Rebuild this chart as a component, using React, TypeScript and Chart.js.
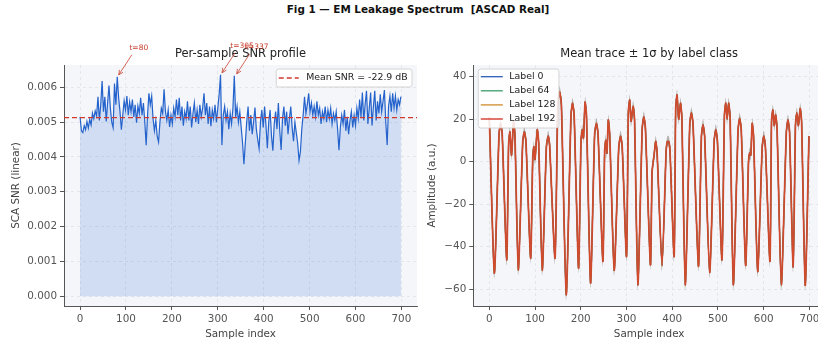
import React, { useEffect, useRef } from "react";
import { Chart, registerables } from "chart.js";

Chart.register(...registerables);

const FONT = "'DejaVu Sans', sans-serif";

// ---------------- Figure text ----------------
const SUPTITLE = "Fig 1 \u2014 EM Leakage Spectrum  [ASCAD Real]";
const LEFT_TITLE = "Per-sample SNR profile";
const RIGHT_TITLE = "Mean trace \u00b1 1\u03c3 by label class";
const X_LABEL = "Sample index";
const LEFT_Y_LABEL = "SCA SNR (linear)";
const RIGHT_Y_LABEL = "Amplitude (a.u.)";

// ---------------- Left panel data ----------------
const SNR_STEP = 3; // SNR read every 3rd sample (0, 3, 6, ... 699)
const SNR_VALUES = [
  0.00515, 0.00475, 0.0047, 0.0049, 0.00478, 0.00502, 0.00483, 0.00508, 0.00492, 0.00526,
  0.0051, 0.00532, 0.00518, 0.00573, 0.00505, 0.0055, 0.00618, 0.0053, 0.00573, 0.00502,
  0.00555, 0.00605, 0.0054, 0.005, 0.00484, 0.00611, 0.0055, 0.0063, 0.0057, 0.0053,
  0.00478, 0.0052, 0.00561, 0.00535, 0.00575, 0.0052, 0.00558, 0.0053, 0.00565, 0.00515,
  0.0055, 0.00498, 0.00546, 0.00525, 0.0057, 0.0052, 0.00555, 0.005, 0.00434, 0.0052,
  0.00583, 0.0055, 0.00575, 0.0051, 0.00475, 0.00505, 0.0046, 0.00443, 0.005, 0.0054,
  0.00525, 0.00594, 0.0053, 0.00505, 0.00535, 0.00486, 0.0052, 0.00495, 0.0054, 0.00515,
  0.00565, 0.0052, 0.0057, 0.00505, 0.00545, 0.0049, 0.0053, 0.0051, 0.0056, 0.00505,
  0.00545, 0.00485, 0.00525, 0.00555, 0.005, 0.00535, 0.00495, 0.0055, 0.00515, 0.0054,
  0.00583, 0.0052, 0.00555, 0.00495, 0.00545, 0.00488, 0.00535, 0.0051, 0.0055, 0.005,
  0.0054, 0.0058, 0.00636, 0.00434, 0.0052, 0.00545, 0.00505, 0.0053, 0.0048, 0.00525,
  0.00495, 0.0054, 0.00633, 0.00515, 0.00545, 0.005, 0.0053, 0.00485, 0.0044, 0.00379,
  0.0044, 0.005, 0.00545, 0.00475, 0.0052, 0.00465, 0.005, 0.00542, 0.0048, 0.0045,
  0.00424, 0.005, 0.00535, 0.00485, 0.00545, 0.0049, 0.00425, 0.005, 0.00535, 0.0046,
  0.00418, 0.00495, 0.0053, 0.0048, 0.00555, 0.00475, 0.0042, 0.0051, 0.00545, 0.0049,
  0.0053, 0.00465, 0.0051, 0.00545, 0.00485, 0.00445, 0.005, 0.0047, 0.0044, 0.0039,
  0.00415, 0.0048, 0.0052, 0.00573, 0.00525, 0.0055, 0.00583, 0.0053, 0.00555, 0.0052,
  0.00545, 0.00515, 0.0056, 0.0052, 0.0054, 0.00495, 0.0053, 0.0051, 0.00545, 0.005,
  0.00535, 0.0051, 0.0054, 0.00495, 0.00525, 0.00505, 0.0053, 0.0048, 0.00419, 0.00485,
  0.0052, 0.00495, 0.00535, 0.00475, 0.00515, 0.00465, 0.00505, 0.0053, 0.00485, 0.0052,
  0.0049, 0.0054, 0.0051, 0.00565, 0.00515, 0.00585, 0.00505, 0.0055, 0.0059, 0.00495,
  0.0054, 0.00585, 0.0049, 0.00545, 0.0059, 0.00505, 0.0056, 0.00525, 0.0058, 0.0053,
  0.0056, 0.00592, 0.005, 0.00434, 0.00545, 0.00575, 0.0053, 0.00583, 0.0054, 0.00575,
  0.00535, 0.00565, 0.0055, 0.00573,
];
const SNR_MEAN = 0.00513;
const SNR_LEGEND = "Mean SNR = -22.9 dB";
const PEAK_SAMPLES = [80, 305, 337];
const PEAK_VALUES = [0.0063, 0.00636, 0.00633];
const SNR_Y_TICKS = [0, 0.001, 0.002, 0.003, 0.004, 0.005, 0.006];
const SAMPLE_TICKS = [0, 100, 200, 300, 400, 500, 600, 700];

// ---------------- Right panel data ----------------
const TRACE_SAMPLES = [
  0, 11.0, 21.3, 24.7, 28.2, 38.0, 42.2, 45.1, 48.6, 53.1, 56.1, 63.4, 73.0, 76.5, 80.0, 90.3,
  95.0, 97.4, 99.9, 104.9, 107.9, 115.8, 124.8, 128.8, 131.8, 143.7, 149.7, 153.7, 157.6, 168.2,
  178.6, 182.0, 185.5, 195.1, 200.5, 203.4, 205.9, 209.4, 212.4, 221.4, 230.3, 234.3, 237.8, 248.3,
  252.2, 254.7, 257.2, 260.2, 263.2, 273.1, 283.1, 287.1, 290.6, 300.0, 304.0, 307.0, 310.0, 314.5,
  317.5, 324.9, 334.4, 337.9, 341.3, 352.3, 355.8, 357.8, 360.3, 363.7, 366.7, 377.7, 386.6, 389.1,
  392.6, 395.1, 404.1, 407.5, 410.5, 414.0, 418.0, 421.0, 428.5, 438.4, 441.9, 445.4, 457.3, 463.8,
  467.3, 470.8, 481.8, 491.7, 495.2, 498.7, 508.7, 514.1, 517.1, 520.0, 523.3, 526.5, 533.6, 543.9,
  547.4, 550.9, 560.5, 566.8, 569.3, 571.8, 574.8, 577.8, 586.8, 596.7, 600.2, 603.7, 613.6, 617.1,
  620.1, 623.1, 626.1, 629.1, 638.5, 649.5, 653.0, 656.5, 664.4, 669.4, 672.4, 675.9, 679.8, 682.8,
  690.8, 699,
];
const TRACE_MEAN = [
  21, -52.5, 13, 18, 13, -46.3, 8, 14, 3, 19, 12, -51, 9, 14, 10, -45.5,
  2, 7, 1, 15, 9, -51.2, 7, 12, 8, -45.5, 27, 33, 27, -62.7,
  22, 27.5, 22, -50.2, 10, 15, 11, 28, 22, -57.2, 13, 18, 13, -47,
  5, 10, 4, 19.6, 13, -51.2, 7, 12, 7, -44.7, 23, 29, 19, 26,
  20, -58, 16, 21, 16, -48.6, -5, -1, 3, 9.5, 5, -49, 5, 9.4,
  9.4, 5, -44.7, 25, 31.4, 20, 27.5, 21, -58, 18, 23, 18, -49.3, 12,
  17.3, 12, -52.2, 10, 15, 10, -46.3, 22, 27.5, 20, 27.5, 21, -58, 15,
  20.4, 15, -48.9, 0, 4, 3, 18, 12, -51.8, 7, 12, 7, -47, 19,
  24.3, 17, 22, 16, -58, 14, 19.6, 14, -49.6, 17, 23, 17, 25, 19,
  -58.3, 12,
];
const LABEL_NAMES = ["Label 0", "Label 64", "Label 128", "Label 192"];
const LABEL_SIGMA = [2.6, 2.4, 2.8, 2.5];
const AMP_TICKS = [-60, -40, -20, 0, 20, 40];

// ---------------- Styles ----------------
const LABEL_COLORS = ["#2c5fb8", "#3a9e6a", "#d08a2a", "rgba(212,58,44,0.78)"];
const BAND_COLORS = [
  "rgba(44,95,184,0.16)",
  "rgba(58,158,106,0.16)",
  "rgba(208,138,42,0.16)",
  "rgba(214,76,58,0.16)",
];
const SNR_COLOR = "#2563cc";
const SNR_FILL = "rgba(37,99,204,0.17)";
const MEAN_COLOR = "#d0392b";
const ANNOT_COLOR = "#c8412f";
const PLOT_BG = "#f5f6fa";
const GRID_COLOR = "#dfe2e8";
const AXIS_COLOR = "#555555";
const TICK_TEXT = "#555555";
const TITLE_TEXT = "#222222";

const bgPlugin = {
  id: "plotBg",
  beforeDraw(chart: any) {
    const { ctx, chartArea: a } = chart;
    ctx.save();
    ctx.fillStyle = PLOT_BG;
    ctx.fillRect(a.left, a.top, a.right - a.left, a.bottom - a.top);
    ctx.restore();
  },
};

function roundRect(ctx: any, x: number, y: number, w: number, h: number, r: number) {
  ctx.beginPath();
  ctx.moveTo(x + r, y);
  ctx.lineTo(x + w - r, y);
  ctx.quadraticCurveTo(x + w, y, x + w, y + r);
  ctx.lineTo(x + w, y + h - r);
  ctx.quadraticCurveTo(x + w, y + h, x + w - r, y + h);
  ctx.lineTo(x + r, y + h);
  ctx.quadraticCurveTo(x, y + h, x, y + h - r);
  ctx.lineTo(x, y + r);
  ctx.quadraticCurveTo(x, y, x + r, y);
  ctx.closePath();
}

function drawPanelTitle(chart: any, text: string) {
  const { ctx, chartArea: a } = chart;
  ctx.save();
  ctx.font = `11.5px ${FONT}`;
  ctx.fillStyle = TITLE_TEXT;
  ctx.textAlign = "center";
  ctx.textBaseline = "middle";
  ctx.fillText(text, (a.left + a.right) / 2, a.top - 10.5);
  ctx.restore();
}

const leftDecor = {
  id: "leftDecor",
  afterDatasetsDraw(chart: any) {
    const { ctx, chartArea: a, scales } = chart;
    const yy = scales.y.getPixelForValue(SNR_MEAN);
    ctx.save();
    ctx.strokeStyle = MEAN_COLOR;
    ctx.lineWidth = 1.3;
    ctx.setLineDash([5, 3]);
    ctx.beginPath();
    ctx.moveTo(a.left, yy);
    ctx.lineTo(a.right, yy);
    ctx.stroke();
    ctx.restore();
  },
  afterDraw(chart: any) {
    const { ctx, chartArea: a, scales } = chart;
    drawPanelTitle(chart, LEFT_TITLE);

    // peak annotations
    PEAK_SAMPLES.forEach((s, i) => {
      const px = scales.x.getPixelForValue(s);
      const py = scales.y.getPixelForValue(PEAK_VALUES[i]);
      const tx = px + 22;
      const ty = py - 29;
      ctx.save();
      ctx.font = `7.5px ${FONT}`;
      ctx.fillStyle = ANNOT_COLOR;
      ctx.textAlign = "center";
      ctx.textBaseline = "middle";
      ctx.fillText(`t=${s}`, tx, ty);
      const sx = tx - 7, sy = ty + 7;
      const ex = px + 2, ey = py - 2;
      ctx.strokeStyle = ANNOT_COLOR;
      ctx.lineWidth = 0.8;
      ctx.beginPath();
      ctx.moveTo(sx, sy);
      ctx.lineTo(ex, ey);
      const ang = Math.atan2(ey - sy, ex - sx);
      const hl = 5;
      ctx.moveTo(ex, ey);
      ctx.lineTo(ex - hl * Math.cos(ang - 0.45), ey - hl * Math.sin(ang - 0.45));
      ctx.moveTo(ex, ey);
      ctx.lineTo(ex - hl * Math.cos(ang + 0.45), ey - hl * Math.sin(ang + 0.45));
      ctx.stroke();
      ctx.restore();
    });

    // legend
    ctx.save();
    ctx.font = `9.4px ${FONT}`;
    const tw = ctx.measureText(SNR_LEGEND).width;
    const bw = 30 + tw + 4.3;
    const bh = 18;
    const bx = a.right - 5 - bw;
    const by = a.top + 4;
    roundRect(ctx, bx, by, bw, bh, 2.5);
    ctx.fillStyle = "rgba(255,255,255,0.85)";
    ctx.fill();
    ctx.strokeStyle = "#cccccc";
    ctx.lineWidth = 0.8;
    ctx.stroke();
    ctx.strokeStyle = MEAN_COLOR;
    ctx.lineWidth = 1.3;
    ctx.setLineDash([5, 3]);
    ctx.beginPath();
    ctx.moveTo(bx + 2.5, by + bh / 2);
    ctx.lineTo(bx + 22.5, by + bh / 2);
    ctx.stroke();
    ctx.setLineDash([]);
    ctx.fillStyle = TITLE_TEXT;
    ctx.textAlign = "left";
    ctx.textBaseline = "middle";
    ctx.fillText(SNR_LEGEND, bx + 30, by + bh / 2);
    ctx.restore();
  },
};

const rightDecor = {
  id: "rightDecor",
  afterDraw(chart: any) {
    const { ctx, chartArea: a } = chart;
    drawPanelTitle(chart, RIGHT_TITLE);
    ctx.save();
    ctx.font = `9.4px ${FONT}`;
    const tw = Math.max(...LABEL_NAMES.map((t) => ctx.measureText(t).width));
    const bw = 31 + tw + 3.5;
    const bh = 59;
    const bx = a.left + 5;
    const by = a.top + 4;
    roundRect(ctx, bx, by, bw, bh, 2.5);
    ctx.fillStyle = "rgba(255,255,255,0.85)";
    ctx.fill();
    ctx.strokeStyle = "#cccccc";
    ctx.lineWidth = 0.8;
    ctx.stroke();
    LABEL_NAMES.forEach((name, i) => {
      const ry = by + 7.7 + i * 14.1;
      ctx.strokeStyle = LABEL_COLORS[i];
      ctx.lineWidth = i === 3 ? 1.8 : 1.3;
      ctx.beginPath();
      ctx.moveTo(bx + 2.5, ry);
      ctx.lineTo(bx + 24.5, ry);
      ctx.stroke();
      ctx.fillStyle = TITLE_TEXT;
      ctx.textAlign = "left";
      ctx.textBaseline = "middle";
      ctx.fillText(name, bx + 31, ry);
    });
    ctx.restore();
  },
};

function makeScale(opts: {
  min: number;
  max: number;
  ticks: number[];
  fmt: (v: number) => string;
  title: string;
  size: number;
  horizontal: boolean;
  titlePad: number;
}) {
  return {
    type: "linear",
    min: opts.min,
    max: opts.max,
    afterBuildTicks: (scale: any) => {
      scale.ticks = opts.ticks.map((v) => ({ value: v }));
    },
    afterFit: (scale: any) => {
      if (opts.horizontal) scale.height = opts.size;
      else scale.width = opts.size;
    },
    ticks: {
      color: TICK_TEXT,
      font: { family: FONT, size: 10.4 },
      padding: 3,
      maxRotation: 0,
      autoSkip: false,
      callback: (v: any) => opts.fmt(Number(v)),
    },
    grid: {
      color: GRID_COLOR,
      lineWidth: 0.8,
      tickColor: AXIS_COLOR,
      tickLength: 4,
      tickWidth: 1,
      tickBorderDash: [],
    },
    border: { display: true, color: AXIS_COLOR, width: 1, dash: [3, 3] },
    title: {
      display: true,
      text: opts.title,
      color: "#444444",
      font: { family: FONT, size: 10.4 },
      padding: opts.horizontal ? { top: 0, bottom: opts.titlePad } : { top: opts.titlePad, bottom: 0 },
    },
  };
}

const fmtSample = (v: number) => String(Math.round(v));
const fmtSnr = (v: number) => v.toFixed(3);
const fmtAmp = (v: number) => (v < 0 ? "\u2212" + Math.abs(v) : String(v));

export default function App() {
  const leftRef = useRef<HTMLCanvasElement | null>(null);
  const rightRef = useRef<HTMLCanvasElement | null>(null);

  useEffect(() => {
    const left = new Chart(leftRef.current as HTMLCanvasElement, {
      type: "line",
      data: {
        datasets: [
          {
            data: SNR_VALUES.map((v, i) => ({ x: i * SNR_STEP, y: v })),
            borderColor: SNR_COLOR,
            borderWidth: 1.2,
            pointRadius: 0,
            fill: "origin",
            backgroundColor: SNR_FILL,
            tension: 0,
          },
        ],
      },
      options: {
        responsive: false,
        animation: false,
        devicePixelRatio: 1,
        events: [],
        layout: { padding: { left: 0, right: 3, top: 65, bottom: 0 } },
        plugins: { legend: { display: false }, tooltip: { enabled: false }, title: { display: false } },
        scales: {
          x: makeScale({ min: -35, max: 734, ticks: SAMPLE_TICKS, fmt: fmtSample, title: X_LABEL, size: 39, horizontal: true, titlePad: 4.8 }),
          y: makeScale({ min: -0.00028, max: 0.00664, ticks: SNR_Y_TICKS, fmt: fmtSnr, title: LEFT_Y_LABEL, size: 64, horizontal: false, titlePad: 9.8 }),
        },
      } as any,
      plugins: [bgPlugin, leftDecor],
    });

    const datasets: any[] = [];
    LABEL_NAMES.forEach((name, i) => {
      datasets.push({
        label: name + " +σ",
        data: TRACE_SAMPLES.map((s, k) => ({ x: s, y: TRACE_MEAN[k] + LABEL_SIGMA[i] })),
        borderWidth: 0,
        borderColor: "rgba(0,0,0,0)",
        pointRadius: 0,
        tension: 0.2,
        fill: "+1",
        backgroundColor: BAND_COLORS[i],
        order: 10,
      });
      datasets.push({
        label: name + " −σ",
        data: TRACE_SAMPLES.map((s, k) => ({ x: s, y: TRACE_MEAN[k] - LABEL_SIGMA[i] })),
        borderWidth: 0,
        borderColor: "rgba(0,0,0,0)",
        pointRadius: 0,
        tension: 0.2,
        fill: false,
        order: 10,
      });
    });
    LABEL_NAMES.forEach((name, i) => {
      datasets.push({
        label: name,
        data: TRACE_SAMPLES.map((s, k) => ({ x: s, y: TRACE_MEAN[k] })),
        borderColor: LABEL_COLORS[i],
        borderWidth: i === 3 ? 1.8 : 1.2,
        pointRadius: 0,
        tension: 0.2,
        fill: false,
        order: 4 - i,
      });
    });

    const right = new Chart(rightRef.current as HTMLCanvasElement, {
      type: "line",
      data: { datasets },
      options: {
        responsive: false,
        animation: false,
        devicePixelRatio: 1,
        events: [],
        layout: { padding: { left: 0, right: 15, top: 65, bottom: 0 } },
        plugins: { legend: { display: false }, tooltip: { enabled: false }, title: { display: false } },
        scales: {
          x: makeScale({ min: -35, max: 734, ticks: SAMPLE_TICKS, fmt: fmtSample, title: X_LABEL, size: 39, horizontal: true, titlePad: 4.8 }),
          y: makeScale({ min: -68, max: 45.5, ticks: AMP_TICKS, fmt: fmtAmp, title: RIGHT_Y_LABEL, size: 53.3, horizontal: false, titlePad: 6.5 }),
        },
      } as any,
      plugins: [bgPlugin, rightDecor],
    });

    return () => {
      left.destroy();
      right.destroy();
    };
  }, []);

  return (
    <div
      style={{
        position: "absolute",
        left: 0,
        top: 0,
        width: 818,
        height: 345,
        overflow: "hidden",
        background: "#ffffff",
      }}
    >
      <div
        style={{
          position: "absolute",
          left: 0,
          top: 3,
          width: 836,
          textAlign: "center",
          whiteSpace: "pre",
          font: `bold 10.4px ${FONT}`,
          lineHeight: "12px",
          color: "#111111",
        }}
      >
        {SUPTITLE}
      </div>
      <canvas
        ref={leftRef}
        width={420}
        height={345}
        style={{ position: "absolute", left: 0, top: 0, width: 420, height: 345 }}
      />
      <canvas
        ref={rightRef}
        width={420}
        height={345}
        style={{ position: "absolute", left: 420, top: 0, width: 420, height: 345 }}
      />
    </div>
  );
}
